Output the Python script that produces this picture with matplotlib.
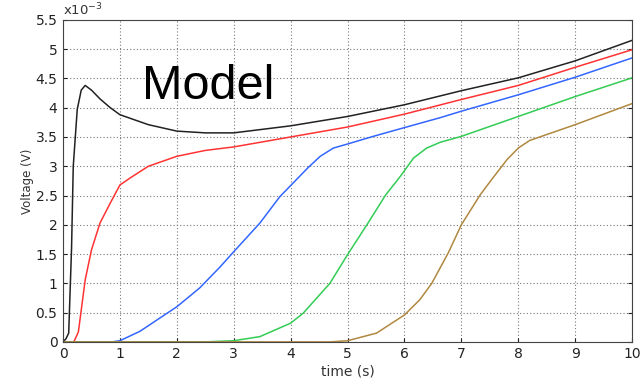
import matplotlib.pyplot as plt
import numpy as np

# voltage traces, values in mV (axis shows x10^-3 V)
t_black = [0, 0.05, 0.1, 0.15, 0.18, 0.25, 0.32, 0.39, 0.5, 0.65, 0.83, 1.0, 1.5, 2.0, 2.5, 3, 4, 5, 6, 7, 8, 9, 10]
v_black = [0, 0.05, 0.15, 1.6, 3.0, 3.97, 4.3, 4.38, 4.3, 4.15, 4.0, 3.88, 3.71, 3.6, 3.57, 3.57, 3.69, 3.85, 4.05, 4.29, 4.51, 4.8, 5.15]

t_red = [0, 0.19, 0.27, 0.39, 0.5, 0.65, 0.83, 1.0, 1.18, 1.5, 2.0, 2.5, 3, 4, 5, 6, 7, 8, 9, 10]
v_red = [0, 0, 0.17, 1.06, 1.57, 2.03, 2.37, 2.68, 2.8, 3.0, 3.17, 3.27, 3.33, 3.5, 3.67, 3.89, 4.14, 4.38, 4.69, 4.99]

t_blue = [0, 0.86, 1.0, 1.35, 2.0, 2.4, 2.76, 3.0, 3.46, 3.81, 4.1, 4.3, 4.52, 4.75, 5.0, 5.45, 6.0, 6.63, 7, 8, 9, 10]
v_blue = [0, 0, 0.02, 0.18, 0.6, 0.92, 1.28, 1.54, 2.03, 2.48, 2.77, 2.97, 3.17, 3.31, 3.38, 3.51, 3.66, 3.83, 3.94, 4.22, 4.52, 4.85]

t_green = [0, 2.5, 3.0, 3.46, 4.0, 4.22, 4.69, 5.0, 5.34, 5.67, 5.93, 6.16, 6.39, 6.63, 7, 8, 9, 10]
v_green = [0, 0, 0.02, 0.09, 0.32, 0.49, 1.0, 1.49, 2.0, 2.51, 2.83, 3.14, 3.31, 3.41, 3.51, 3.85, 4.19, 4.51]

t_brown = [0, 4.7, 5.0, 5.51, 6.0, 6.27, 6.48, 6.77, 7.0, 7.33, 7.53, 7.8, 8.0, 8.2, 9, 10]
v_brown = [0, 0, 0.02, 0.15, 0.46, 0.72, 1.0, 1.52, 2.0, 2.51, 2.77, 3.11, 3.31, 3.44, 3.71, 4.07]

fig = plt.figure(figsize=(6.43, 3.82), dpi=100)
ax = fig.add_axes([0.098, 0.105, 0.885, 0.843])

ax.plot(t_black, v_black, color='#222222', lw=1.1)
ax.plot(t_red, v_red, color='#ff3333', lw=1.1)
ax.plot(t_blue, v_blue, color='#3366ff', lw=1.1)
ax.plot(t_green, v_green, color='#33cc55', lw=1.1)
ax.plot(t_brown, v_brown, color='#b08840', lw=1.1)

ax.set_xlim(0, 10)
ax.set_ylim(0, 5.5)
ax.set_xticks(np.arange(0, 11, 1))
ax.set_yticks(np.arange(0, 5.6, 0.5))
ax.set_yticklabels(['0', '0.5', '1', '1.5', '2', '2.5', '3', '3.5', '4', '4.5', '5', '5.5'])
ax.grid(True, linestyle=(0, (1, 2)), color='#777777', lw=0.8)
ax.tick_params(direction='in', length=3, colors='#222222', labelsize=10,
               right=True, top=False, pad=4)
for s in ax.spines.values():
    s.set_color('#444444')

ax.set_xlabel('time (s)', fontsize=10, color='#333333', labelpad=2)
ax.set_ylabel('Voltage (V)', fontsize=8.5, color='#333333', labelpad=1)
ax.text(0, 1.005, r'x10$^{-3}$', transform=ax.transAxes, fontsize=9.5,
        color='#333333', va='bottom')
ax.text(1.39, 4.14, 'Model', fontsize=35, family='Liberation Sans', color='black')

fig.savefig('out.png', dpi=100)
